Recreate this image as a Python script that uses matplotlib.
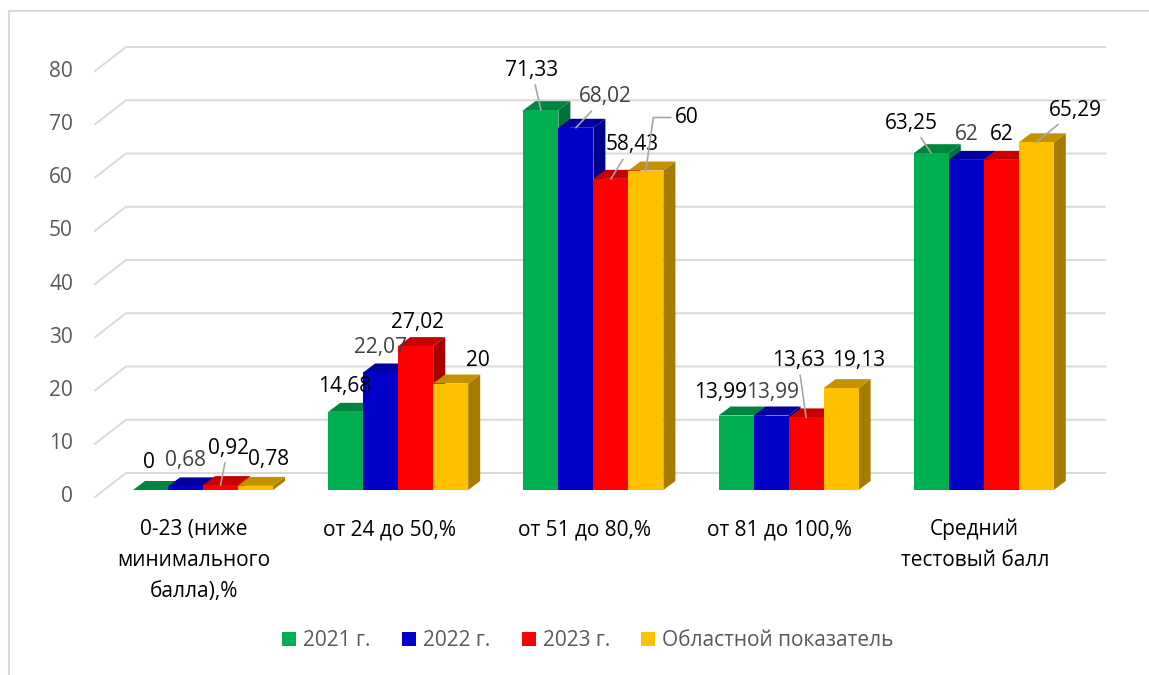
import matplotlib
matplotlib.use("Agg")
import matplotlib.pyplot as plt
from matplotlib.patches import Polygon, Patch
from matplotlib.lines import Line2D

plt.rcParams['font.family'] = ['Open Sans', 'DejaVu Sans']

# ---------------- data ----------------
categories = ['0-23 (ниже\nминимального\nбалла),%', 'от 24 до 50,%', 'от 51 до 80,%',
              'от 81 до 100,%', 'Средний\nтестовый балл']
series_names = ['2021 г.', '2022 г.', '2023 г.', 'Областной показатель']
s2021 = [0, 14.68, 71.33, 13.99, 63.25]
s2022 = [0.68, 22.07, 68.02, 13.99, 62]
s2023 = [0.92, 27.02, 58.43, 13.63, 62]
sreg = [0.78, 20, 60, 19.13, 65.29]
yticks = [0, 10, 20, 30, 40, 50, 60, 70, 80]

# ---------------- style ----------------
front_cols = ['#00B050', '#0000C8', '#FF0000', '#FFC000']
top_cols = ['#00853E', '#0000A0', '#C80000', '#C49100']
side_cols = ['#00723A', '#00008C', '#A80000', '#A67C00']
label_cols = ['#000000', '#404040', '#000000', '#000000']
# label offsets in pixels (dx right, dy down) from the bar top centre
label_off = [
    [(-1.5, -27), (-0.7, -25.8), (-9, -40), (-16, -23.5), (-20, -30)],
    [(0, -26), (-0.7, -24.5), (29, -31), (1, -23.5), (0.7, -25)],
    [(7.5, -37), (1.3, -24), (21, -34), (-8, -57), (0.7, -25)],
    [(13.5, -26), (27, -22.5), (41, -53), (18, -28), (39, -32)],
]
leaders = {(2, 0): None, (0, 2): None, (1, 2): None, (2, 2): None,
           (3, 2): "angle,angleA=0,angleB=82,rad=0", (2, 3): None,
           (0, 4): None, (3, 4): None}

W, H = 1149, 675
PX_X = 195.2      # pixels per category
PX_Y = 5.325      # pixels per unit
X0_PX = 203.0     # pixel x of category 0
Y0_PX = 490.0     # pixel y (from top) of value 0 on bar front plane

fig = plt.figure(figsize=(W / 100, H / 100), dpi=100)
ax = fig.add_axes([0, 0, 1, 1])
ax.set_xlim((0 - X0_PX) / PX_X, (W - X0_PX) / PX_X)
ax.set_ylim((Y0_PX - H) / PX_Y, Y0_PX / PX_Y)
ax.axis('off')

def dxp(p):
    return p / PX_X

def dyp(p):
    return p / PX_Y

# chart border
fig.add_artist(Line2D([9 / W, 9 / W], [0, 1 - 11 / H], color='#d9d9d9', lw=1.5))
fig.add_artist(Line2D([9 / W, 1], [1 - 11 / H, 1 - 11 / H], color='#d9d9d9', lw=1.5))

# back wall grid lines
front_x = (95 - X0_PX) / PX_X
back_x = (126 - X0_PX) / PX_X
end_x = (1105 - X0_PX) / PX_X
for v in yticks:
    yf = v - dyp(7)
    yb = v + dyp(17)
    ax.plot([front_x, back_x, end_x], [yf, yb, yb], color='#d9d9d9', lw=1.4,
            zorder=1, solid_joinstyle='miter')
    ax.text(front_x - dxp(22), yf, str(v), ha='right', va='center',
            fontsize=15, color='#595959')

# bars
series = [s2021, s2022, s2023, sreg]
bw = dxp(35)
ddx, ddy = dxp(12), dyp(9)
z = 2
for ci in range(len(categories)):
    for si, vals in enumerate(series):
        v = vals[ci]
        xc = ci + (si - 1.5) * bw
        x0, x1 = xc - bw / 2, xc + bw / 2
        ax.add_patch(Polygon([(x1, 0), (x1 + ddx, ddy), (x1 + ddx, v + ddy), (x1, v)],
                             closed=True, facecolor=side_cols[si], edgecolor='none', zorder=z))
        ax.add_patch(Polygon([(x0, v), (x1, v), (x1 + ddx, v + ddy), (x0 + ddx, v + ddy)],
                             closed=True, facecolor=top_cols[si], edgecolor='none', zorder=z))
        ax.bar(xc, v, width=bw, color=front_cols[si], edgecolor='none', zorder=z + 0.5)
        z += 1

# data labels
for si, vals in enumerate(series):
    for ci, v in enumerate(vals):
        xc = ci + (si - 1.5) * bw
        dx, dy = label_off[si][ci]
        txt = f"{v:g}".replace('.', ',')
        kw = {}
        if (si, ci) in leaders:
            ap = dict(arrowstyle='-', color='#a6a6a6', lw=1.2, shrinkA=1, shrinkB=0)
            if leaders[(si, ci)]:
                ap['connectionstyle'] = leaders[(si, ci)]
            kw['arrowprops'] = ap
        ax.annotate(txt, xy=(xc, v), xytext=(dx, -dy), textcoords='offset pixels',
                    ha='center', va='center', fontsize=15, color=label_cols[si],
                    zorder=100, **kw)

# category labels
for ci, name in enumerate(categories):
    ax.text(ci - dxp(9), (Y0_PX - 519) / PX_Y, name, ha='center', va='top',
            fontsize=15, color='#000000', linespacing=1.62)

# legend
handles = [Patch(facecolor=c, edgecolor='none') for c in front_cols]
fig.legend(handles, series_names, loc='center', bbox_to_anchor=(588 / W, 1 - 641 / H),
           ncol=4, frameon=False, fontsize=15, labelcolor='#595959',
           handlelength=0.67, handleheight=0.67, handletextpad=0.34, columnspacing=1.5)

fig.savefig('out.png', dpi=100)
